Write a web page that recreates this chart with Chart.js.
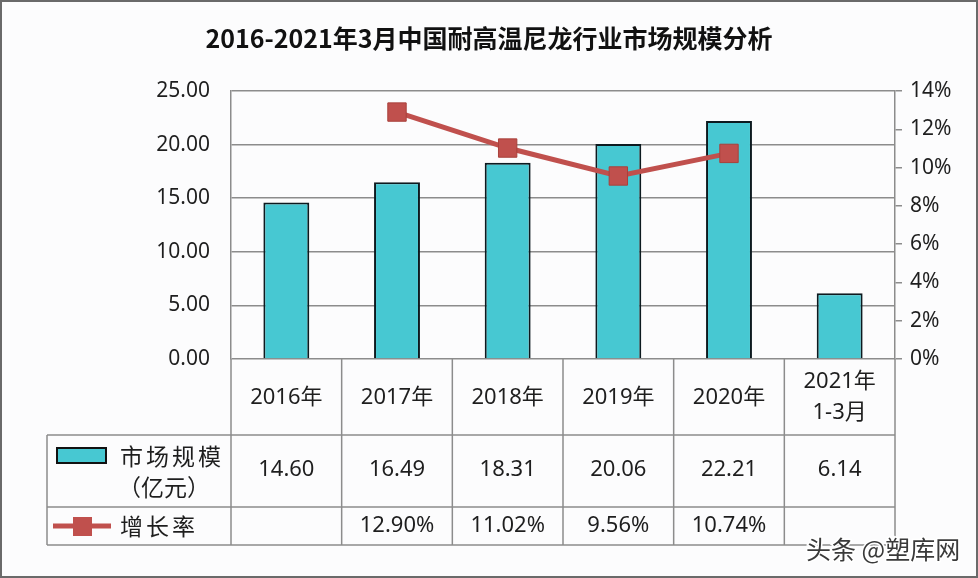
<!DOCTYPE html>
<html>
<head>
<meta charset="utf-8">
<script src="https://cdn.jsdelivr.net/npm/chart.js@4"></script>
<style>
html, body { margin: 0; padding: 0; background: #fff; }
</style>
</head>
<body>
<canvas id="chart" width="978" height="578"></canvas>
<script>
const categories = [['2016年'], ['2017年'], ['2018年'], ['2019年'], ['2020年'], ['2021年', '1-3月']];
const marketSize = [14.60, 16.49, 18.31, 20.06, 22.21, 6.14];
const growthRate = [null, 12.90, 11.02, 9.56, 10.74, null];
const sizeLabel = ['市场规模', '（亿元）'];
const growthLabel = '增长率';
const titleText = '2016-2021年3月中国耐高温尼龙行业市场规模分析';
const watermark = '头条 @塑库网';

const barColor = '#47c8d2';
const lineColor = '#c0504d';
const gridColor = '#8c8c8c';
const textColor = '#1e1e1e';
const fontFamily = '"Noto Sans", "Noto Sans CJK SC", sans-serif';

// draw characters one by one with extra spacing
function spacedText(ctx, text, x, y, gap) {
    let cx = x;
    for (const ch of text) {
        ctx.fillText(ch, cx, y);
        cx += ctx.measureText(ch).width + gap;
    }
}

const tablePlugin = {
    id: 'dataTable',
    beforeDraw(chart) {
        const ctx = chart.ctx;
        ctx.save();
        ctx.fillStyle = '#fcfcfd';
        ctx.fillRect(0, 0, chart.width, chart.height);
        ctx.restore();
    },
    afterDraw(chart) {
        const ctx = chart.ctx;
        const xs = chart.scales.x;
        const area = chart.chartArea;
        const half = (xs.getPixelForValue(1) - xs.getPixelForValue(0)) / 2;
        const edges = categories.map((c, i) => xs.getPixelForValue(i) - half);
        edges.push(area.right);

        const top = area.bottom;
        const row1 = top + 76;
        const row2 = top + 148;
        const row3 = top + 186;
        const tableLeft = 47;

        ctx.save();
        ctx.strokeStyle = gridColor;
        ctx.lineWidth = 1.5;
        ctx.beginPath();
        edges.forEach(e => { ctx.moveTo(e, top); ctx.lineTo(e, row3); });
        ctx.moveTo(tableLeft, row1); ctx.lineTo(tableLeft, row3);
        [row1, row2, row3].forEach(r => { ctx.moveTo(tableLeft, r); ctx.lineTo(area.right, r); });
        ctx.stroke();

        ctx.fillStyle = textColor;
        ctx.font = '22px ' + fontFamily;
        ctx.textAlign = 'center';
        ctx.textBaseline = 'middle';
        categories.forEach((lines, i) => {
            const cx = xs.getPixelForValue(i);
            if (lines.length === 1) {
                ctx.fillText(lines[0], cx, top + 39);
            } else {
                ctx.fillText(lines[0], cx, top + 23);
                ctx.fillText(lines[1], cx, top + 54);
            }
            ctx.fillText(marketSize[i].toFixed(2), cx, top + 111);
            if (growthRate[i] !== null) {
                ctx.fillText(growthRate[i].toFixed(2) + '%', cx, top + 167);
            }
        });

        // legend keys in the first column
        ctx.fillStyle = barColor;
        ctx.strokeStyle = '#111';
        ctx.lineWidth = 2;
        ctx.fillRect(57, top + 89, 49, 15);
        ctx.strokeRect(57, top + 89, 49, 15);

        ctx.strokeStyle = lineColor;
        ctx.lineWidth = 5;
        ctx.beginPath();
        ctx.moveTo(53, top + 167);
        ctx.lineTo(111, top + 167);
        ctx.stroke();
        ctx.fillStyle = lineColor;
        ctx.fillRect(73, top + 158, 19, 19);

        ctx.fillStyle = textColor;
        ctx.textAlign = 'left';
        ctx.font = '23px "Noto Sans CJK SC", sans-serif';
        spacedText(ctx, sizeLabel[0], 120, top + 97, 3);
        spacedText(ctx, sizeLabel[1], 118, top + 128, 0);
        spacedText(ctx, growthLabel, 120, top + 167, 3);

        // watermark
        ctx.font = '25px "Noto Sans CJK SC", sans-serif';
        ctx.lineWidth = 3;
        ctx.strokeStyle = '#ffffff';
        ctx.strokeText(watermark, 806, 549);
        ctx.fillStyle = '#3a3a3a';
        ctx.fillText(watermark, 806, 549);

        // image frame
        ctx.strokeStyle = '#6a6a6a';
        ctx.lineWidth = 2;
        ctx.strokeRect(1, 1, chart.width - 2, chart.height - 2);
        ctx.restore();
    }
};

new Chart(document.getElementById('chart'), {
    type: 'bar',
    data: {
        labels: categories,
        datasets: [{
            type: 'line',
            label: growthLabel,
            data: growthRate,
            yAxisID: 'y1',
            borderColor: lineColor,
            borderWidth: 5,
            backgroundColor: lineColor,
            pointStyle: 'rect',
            pointRadius: 13,
            pointBorderColor: '#a9403b',
            pointBorderWidth: 1,
            spanGaps: false,
            order: 0
        }, {
            label: sizeLabel.join(''),
            data: marketSize,
            yAxisID: 'y',
            backgroundColor: barColor,
            borderColor: '#0d1a1f',
            borderWidth: 2,
            categoryPercentage: 1,
            barPercentage: 0.415,
            order: 1
        }]
    },
    options: {
        responsive: false,
        animation: false,
        layout: {
            padding: { left: 0, right: 0, top: 0, bottom: 219 }
        },
        plugins: {
            legend: { display: false },
            tooltip: { enabled: false },
            title: {
                display: true,
                text: titleText,
                color: '#111',
                font: { family: '"Noto Sans CJK SC", sans-serif', size: 25, weight: 'bold' },
                padding: { top: 23, bottom: 38 }
            }
        },
        scales: {
            x: {
                display: false
            },
            y: {
                position: 'left',
                min: 0,
                max: 25,
                ticks: {
                    stepSize: 5,
                    padding: 21,
                    color: textColor,
                    font: { family: fontFamily, size: 21 },
                    callback: v => v.toFixed(2)
                },
                grid: { color: gridColor, lineWidth: 1.5, drawTicks: false },
                border: { color: gridColor, width: 1.5 },
                afterFit: s => { s.width = 231; }
            },
            y1: {
                position: 'right',
                min: 0,
                max: 14,
                ticks: {
                    stepSize: 2,
                    padding: 8,
                    color: textColor,
                    font: { family: fontFamily, size: 21 },
                    callback: v => v + '%'
                },
                grid: { drawOnChartArea: false, color: gridColor, lineWidth: 1.5, tickLength: 7 },
                border: { color: gridColor, width: 1.5 },
                afterFit: s => { s.width = 83; }
            }
        }
    },
    plugins: [tablePlugin]
});
</script>
</body>
</html>
